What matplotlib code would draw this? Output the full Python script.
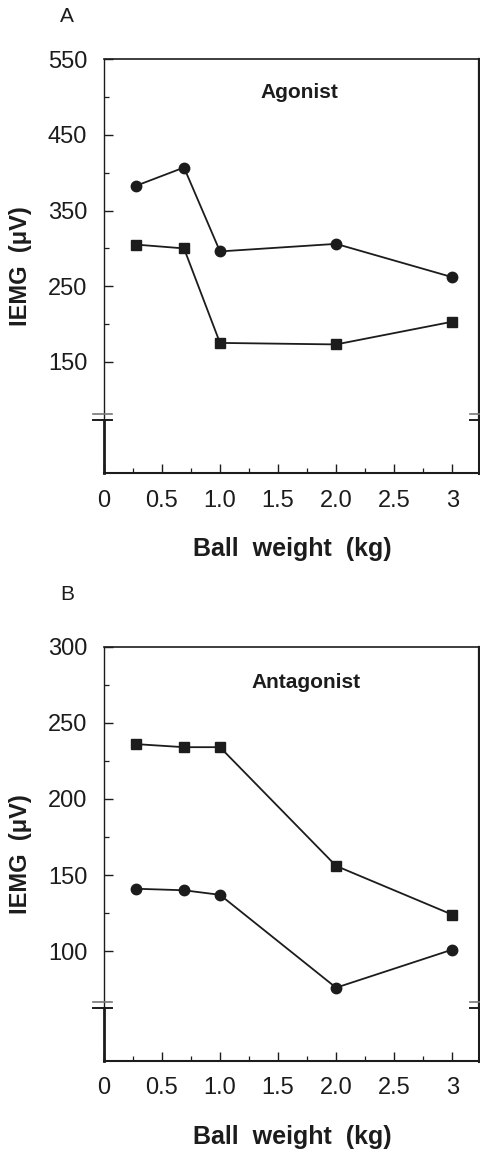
import matplotlib
matplotlib.use("Agg")
import matplotlib.pyplot as plt
from matplotlib.ticker import FixedLocator

plt.rcParams['font.family'] = ['Liberation Sans', 'DejaVu Sans']

# ball weight (kg)
weights = [0.28, 0.69, 1.0, 2.0, 3.0]

# panel A - agonist IEMG (uV)
agon_circle = [383, 407, 296, 306, 262]
agon_square = [305, 300, 175, 173, 203]

# panel B - antagonist IEMG (uV)
antag_square = [236, 234, 234, 156, 124]
antag_circle = [141, 140, 137, 76, 101]

x_ticks = [0, 0.5, 1.0, 1.5, 2.0, 2.5, 3.0]
x_ticklabels = ["0", "0.5", "1.0", "1.5", "2.0", "2.5", "3"]
x_minor = [0.25, 0.75, 1.25, 1.75, 2.25, 2.75]

a_yticks = [150, 250, 350, 450, 550]
a_yminor = [200, 300, 400, 500]
b_yticks = [100, 150, 200, 250, 300]
b_yminor = [125, 175, 225, 275]

INK = "#1c1c1c"

fig = plt.figure(figsize=(4.81, 11.53), dpi=100)
axA = fig.add_axes([0.216, 0.5898, 0.782, 0.3587])
axB = fig.add_axes([0.216, 0.0800, 0.782, 0.3591])


def style_panel(ax, yticks, yminor, ylim, title, tx, ty):
    ax.set_xlim(0, 3.24)
    ax.set_ylim(*ylim)
    ax.xaxis.set_major_locator(FixedLocator(x_ticks))
    ax.set_xticklabels(x_ticklabels)
    ax.xaxis.set_minor_locator(FixedLocator(x_minor))
    ax.yaxis.set_major_locator(FixedLocator(yticks))
    ax.yaxis.set_minor_locator(FixedLocator(yminor))
    ax.tick_params(axis='both', which='major', direction='in', length=6.5,
                   width=1.0, color=INK, labelsize=17, labelcolor=INK)
    ax.tick_params(axis='both', which='minor', direction='in', length=3.5,
                   width=0.9, color=INK)
    ax.tick_params(axis='x', which='major', pad=12)
    ax.tick_params(axis='y', which='major', pad=12)

    # frame with axis break
    ax.spines['left'].set_visible(False)
    ax.spines['right'].set_visible(False)
    ax.spines['top'].set_linewidth(1.2)
    ax.spines['bottom'].set_linewidth(1.5)
    for sp in ('top', 'bottom'):
        ax.spines[sp].set_color(INK)
    brk_hi, brk_lo = 0.143, 0.128
    tr = ax.transAxes
    ax.plot([0, 0], [brk_lo, 1], transform=tr, color=INK, lw=1.0, clip_on=False)
    ax.plot([0, 0], [0, brk_lo], transform=tr, color=INK, lw=2.0, clip_on=False)
    ax.plot([0.997, 0.997], [brk_lo, 1], transform=tr, color=INK, lw=1.6, clip_on=False)
    ax.plot([0.997, 0.997], [0, brk_lo], transform=tr, color=INK, lw=2.2, clip_on=False)
    ax.plot([-0.029, 0.021], [brk_hi, brk_hi], transform=tr, color="#777777", lw=1.2, clip_on=False)
    ax.plot([-0.029, 0.021], [brk_lo, brk_lo], transform=tr, color=INK, lw=1.4, clip_on=False)
    ax.plot([0.973, 1.03], [brk_hi, brk_hi], transform=tr, color="#777777", lw=1.2, clip_on=False)
    ax.plot([0.973, 1.03], [brk_lo, brk_lo], transform=tr, color=INK, lw=1.4, clip_on=False)

    ax.text(tx, ty, title, transform=tr, ha='center', va='center',
            fontsize=15, fontweight='bold', color=INK)
    ax.set_ylabel("IEMG  (\u03bcV)", fontsize=17, fontweight='bold', color=INK,
                  va='center')
    ax.yaxis.set_label_coords(-0.223, 0.5)
    ax.set_xlabel("Ball  weight  (kg)", fontsize=18, fontweight='bold',
                  color=INK, va='baseline')
    ax.xaxis.set_label_coords(0.5, -0.2)


# Panel A
axA.plot(weights, agon_circle, color=INK, lw=1.3, marker='o', markersize=7.5)
axA.plot(weights, agon_square, color=INK, lw=1.3, marker='s', markersize=7)
style_panel(axA, a_yticks, a_yminor, (3, 550), "Agonist", 0.521, 0.919)

# Panel B
axB.plot(weights, antag_square, color=INK, lw=1.3, marker='s', markersize=7)
axB.plot(weights, antag_circle, color=INK, lw=1.3, marker='o', markersize=7.5)
style_panel(axB, b_yticks, b_yminor, (28, 300), "Antagonist", 0.537, 0.913)

fig.text(67 / 481, 1 - 17 / 1153, "A", ha='center', va='center', fontsize=15, color=INK)
fig.text(67 / 481, 1 - 595 / 1153, "B", ha='center', va='center', fontsize=15, color=INK)

fig.savefig("out.png", dpi=100, facecolor='white')
